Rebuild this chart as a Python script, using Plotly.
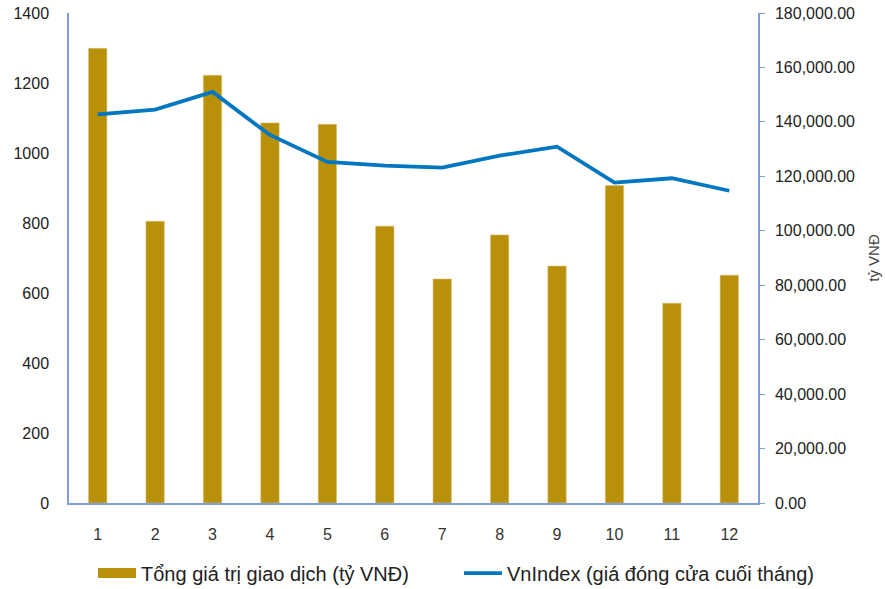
import plotly.graph_objects as go

months = ["1", "2", "3", "4", "5", "6", "7", "8", "9", "10", "11", "12"]
trade_value = [1299, 805, 1222, 1086, 1082, 791, 640, 766, 677, 907, 571, 651]
vnindex = [142800, 144500, 151000, 135200, 125300, 123900, 123200, 127600, 130900, 117700, 119300, 114700]
left_ticks = [0, 200, 400, 600, 800, 1000, 1200, 1400]
right_ticks = [0, 20000, 40000, 60000, 80000, 100000, 120000, 140000, 160000, 180000]
bar_name = "Tổng giá trị giao dịch (tỷ VNĐ)"
line_name = "VnIndex (giá đóng cửa cuối tháng)"

FONT = "Liberation Sans, Arial, sans-serif"
AXIS_COLOR = "#7EA0D6"
BAR_COLOR = "#B8900A"
LINE_COLOR = "#0077C0"

fig = go.Figure()
fig.add_trace(go.Bar(
    x=months, y=trade_value, name=bar_name, showlegend=False,
    marker=dict(color=BAR_COLOR, line=dict(color="#D9C27A", width=0.6)),
    yaxis="y",
))
# legend swatch for the bars (wide rectangle as in the reference)
fig.add_trace(go.Scatter(
    x=[None], y=[None], name=bar_name, mode="lines",
    line=dict(color=BAR_COLOR, width=14), legend="legend", hoverinfo="skip",
))
fig.add_trace(go.Scatter(
    x=months, y=vnindex, name=line_name,
    mode="lines", line=dict(color=LINE_COLOR, width=3.8),
    yaxis="y2", legend="legend2",
))

legend_common = dict(orientation="h", xanchor="left", xref="container",
                     yref="container", y=0.027, yanchor="middle",
                     font=dict(size=20, color="#222222"), itemwidth=38,
                     bgcolor="rgba(0,0,0,0)")

fig.update_layout(
    width=885, height=589,
    margin=dict(l=69, r=127, t=13, b=86, autoexpand=False),
    paper_bgcolor="white", plot_bgcolor="white",
    font=dict(family=FONT, size=16, color="#222222"),
    bargap=0.68,
    showlegend=True,
    legend=dict(x=93 / 885, **legend_common),
    legend2=dict(x=459 / 885, **legend_common),
    xaxis=dict(type="category", showgrid=False, showline=True, linecolor=AXIS_COLOR,
               linewidth=1.5, ticks="", ticklabelstandoff=16, automargin=False,
               tickfont=dict(size=16, color="#333333"), range=[-0.5, 11.5]),
    yaxis=dict(range=[0, 1400], tickvals=left_ticks, showgrid=False, showline=True,
               linecolor=AXIS_COLOR, linewidth=1.5, ticks="", zeroline=False, automargin=False,
               ticklabelstandoff=15,
               tickfont=dict(size=16, color="#222222")),
    yaxis2=dict(range=[0, 180000], tickvals=right_ticks, tickformat=",.2f",
                overlaying="y", side="right", showgrid=False, showline=True,
                linecolor=AXIS_COLOR, linewidth=1.5, ticks="outside", ticklen=5,
                tickcolor=AXIS_COLOR, zeroline=False, automargin=False,
                ticklabelstandoff=7,
                tickfont=dict(size=16, color="#222222"),
                title=dict(text="tỷ VNĐ", font=dict(size=15, color="#444444"), standoff=14)),
)

fig.write_html("out.html", config={"displayModeBar": False},
               post_script="document.body.style.margin='0';")
